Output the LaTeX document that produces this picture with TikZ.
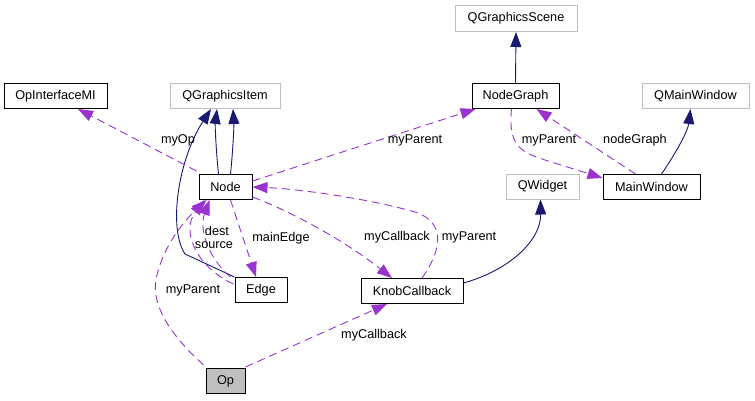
\documentclass[tikz,border=0pt]{standalone}
\usepackage{fontspec}
\setmainfont{Liberation Sans}
\usetikzlibrary{arrows.meta,calc}
\definecolor{navy}{HTML}{191970}
\definecolor{orchid}{HTML}{9A32CD}
\definecolor{extgray}{HTML}{BFBFBF}
\tikzset{
  cls/.style={draw=black,line width=1pt,fill=white,minimum height=25pt,inner sep=0pt,font=\fontsize{12.7}{15}\selectfont},
  extcls/.style={cls,draw=extgray},
  lbl/.style={inner sep=0pt,font=\fontsize{12.7}{15}\selectfont},
  inherit/.style={draw=navy,line width=0.9pt,-{Triangle[length=15pt,width=11pt]}},
  uses/.style={draw=orchid,line width=0.9pt,dash pattern=on 8pt off 5pt,-{Triangle[length=15pt,width=11pt]}},
}
\begin{document}
\begin{tikzpicture}[x=1pt,y=-1pt]
\useasboundingbox (0,0) rectangle (755,400);
% classes
\node[cls,minimum width=103pt] (OpI) at (55.5,96) {OpInterfaceMI};
\node[extcls,minimum width=110pt] (QGI) at (225,96) {QGraphicsItem};
\node[cls,minimum width=53pt] (Node) at (225.5,187) {Node};
\node[cls,minimum width=52pt] (Edge) at (261,290) {Edge};
\node[cls,minimum width=102pt] (KC) at (412,291) {KnobCallback};
\node[cls,fill=extgray,minimum width=39pt] (Op) at (225.5,381) {Op};
\node[extcls,minimum width=122pt,minimum height=26pt] (QGS) at (516,18.5) {QGraphicsScene};
\node[cls,minimum width=87pt] (NG) at (515.5,96) {NodeGraph};
\node[extcls,minimum width=107pt] (QMW) at (695.5,96) {QMainWindow};
\node[extcls,minimum width=73pt] (QW) at (542.5,186.5) {QWidget};
\node[cls,minimum width=97pt] (MW) at (651.5,187) {MainWindow};
% inheritance
\draw[inherit] ($(Node.north)+(-7,0)$) .. controls (216,150) and (215,125) .. ($(QGI.south)+(-8,0)$);
\draw[inherit] ($(Node.north)+(5,0)$) .. controls (233,150) and (234,125) .. ($(QGI.south)+(8,0)$);
\draw[inherit] (Edge.north west) -- (185,254) .. controls (168,228) and (178,160) .. ($(QGI.south)+(-14,0)$);
\draw[inherit] (NG.north) -- (QGS.south);
\draw[inherit] ($(MW.north)+(10,0)$) .. controls (678,150) and (688,130) .. ($(QMW.south)+(-5,0)$);
\draw[inherit] ($(KC.east)+(0,-8)$) .. controls (510,270) and (541,240) .. ($(QW.south)+(-2,0)$);
% usage
\draw[uses] ($(Node.north west)+(-2,-3)$) -- ($(OpI.south)+(22.5,0)$);
\draw[uses] ($(Node.east)+(0,-6)$) -- ($(NG.south west)+(4,0)$);
\draw[uses] ($(Node.south)+(5,0)$) -- ($(Edge.north)+(-5,0)$);
\draw[uses] ($(Node.south east)+(0,-3)$) .. controls (300,215) and (350,245) .. ($(KC.north)+(-20,0)$);
\draw[uses] ($(KC.north)+(10,0)$) .. controls (442,250) and (446,222) .. (415,212) .. controls (370,199) and (300,189) .. (Node.east);
\draw[uses] ($(Edge.west)+(-1,-6)$) .. controls (198,268) and (180,232) .. ($(Node.south)+(-21,0)$);
\draw[uses] ($(Edge.north west)+(-4,0)$) .. controls (212,262) and (198,232) .. ($(Node.south)+(-16,0)$);
\draw[uses] ($(Op.north west)+(-2,-3)$) .. controls (165,330) and (150,300) .. (157,275) .. controls (164,245) and (185,220) .. ($(Node.south)+(-19,0)$);
\draw[uses] ($(Op.north east)+(0,-1)$) -- ($(KC.south)+(-25,0)$);
\draw[uses] ($(NG.south)+(-4,0)$) .. controls (508,145) and (520,152) .. (545,160) -- ($(MW.north west)+(0,4)$);
\draw[uses] ($(MW.north west)+(33,0)$) -- ($(NG.south)+(21,0)$);
% labels
\node[lbl] (l1) at (178,140) {myOp};
\node[lbl] (l2) at (415,140) {myParent};
\node[lbl] (l3) at (549,140) {myParent};
\node[lbl] (l4) at (635,140) {nodeGraph};
\node[lbl] (l5) at (281,238) {mainEdge};
\node[lbl] (l6) at (217,231) {dest};
\node[lbl] (l7) at (214,245) {source};
\node[lbl] (l8) at (397,237) {myCallback};
\node[lbl] (l9) at (469,237) {myParent};
\node[lbl] (l10) at (193,290) {myParent};
\node[lbl] (l11) at (374,335) {myCallback};
\end{tikzpicture}
\end{document}
